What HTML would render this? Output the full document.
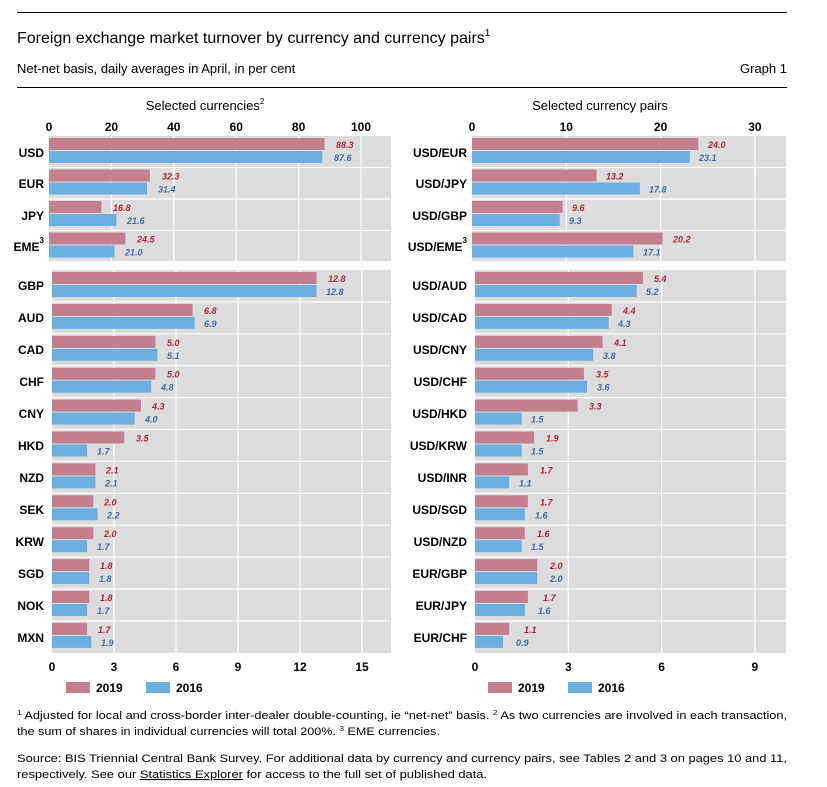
<!DOCTYPE html>
<html><head><meta charset="utf-8"><style>
body{margin:0;background:#fff}
svg{display:block;font-family:"Liberation Sans",sans-serif}
.c{font-size:12px;font-weight:bold;fill:#000;text-anchor:end}
.t{font-size:12px;font-weight:bold;fill:#000;text-anchor:middle}
.r{font-size:9px;font-weight:bold;font-style:italic;fill:#b5262c}
.b{font-size:9px;font-weight:bold;font-style:italic;fill:#3a6db5}
.p{fill:#c47f8f}.q{fill:#6aafe0}
.f{font-size:11px;fill:#000}
</style></head><body>
<svg width="827" height="787" viewBox="0 0 827 787">
<line x1="17" y1="12.5" x2="787" y2="12.5" stroke="#000" stroke-width="1"/>
<text x="17" y="43" font-size="16" fill="#000">Foreign exchange market turnover by currency and currency pairs<tspan font-size="10" dy="-7">1</tspan></text>
<text x="17" y="73" font-size="13" fill="#000">Net-net basis, daily averages in April, in per cent</text>
<text x="787" y="73" font-size="13" fill="#000" text-anchor="end">Graph 1</text>
<line x1="17" y1="87.5" x2="787" y2="87.5" stroke="#000" stroke-width="1"/>
<text x="205" y="110" font-size="13" text-anchor="middle">Selected currencies<tspan font-size="8" dy="-6">2</tspan></text>
<text x="600" y="110" font-size="13" text-anchor="middle">Selected currency pairs</text>

<rect x="49" y="136" width="342" height="125" fill="#dcdcdc"/>
<rect x="52" y="270" width="339" height="383" fill="#dcdcdc"/>
<rect x="472" y="136" width="314" height="125" fill="#dcdcdc"/>
<rect x="475" y="270" width="311" height="383" fill="#dcdcdc"/>
<g stroke="#fff" stroke-width="1.2">
<line x1="111.4" y1="136" x2="111.4" y2="261"/><line x1="173.8" y1="136" x2="173.8" y2="261"/><line x1="236.2" y1="136" x2="236.2" y2="261"/><line x1="298.6" y1="136" x2="298.6" y2="261"/><line x1="361" y1="136" x2="361" y2="261"/>
<line x1="114" y1="270" x2="114" y2="653"/><line x1="176" y1="270" x2="176" y2="653"/><line x1="238" y1="270" x2="238" y2="653"/><line x1="300" y1="270" x2="300" y2="653"/><line x1="362" y1="270" x2="362" y2="653"/>
<line x1="566.3" y1="136" x2="566.3" y2="261"/><line x1="660.6" y1="136" x2="660.6" y2="261"/><line x1="754.9" y1="136" x2="754.9" y2="261"/>
<line x1="568.3" y1="270" x2="568.3" y2="653"/><line x1="661.6" y1="270" x2="661.6" y2="653"/><line x1="754.9" y1="270" x2="754.9" y2="653"/>
<line x1="49" y1="167.5" x2="391" y2="167.5"/><line x1="49" y1="199" x2="391" y2="199"/><line x1="49" y1="230.5" x2="391" y2="230.5"/>
<line x1="472" y1="167.5" x2="786" y2="167.5"/><line x1="472" y1="199" x2="786" y2="199"/><line x1="472" y1="230.5" x2="786" y2="230.5"/>
<line x1="52" y1="301.9" x2="391" y2="301.9"/><line x1="52" y1="333.8" x2="391" y2="333.8"/><line x1="52" y1="365.7" x2="391" y2="365.7"/><line x1="52" y1="397.6" x2="391" y2="397.6"/><line x1="52" y1="429.5" x2="391" y2="429.5"/><line x1="52" y1="461.4" x2="391" y2="461.4"/><line x1="52" y1="493.3" x2="391" y2="493.3"/><line x1="52" y1="525.2" x2="391" y2="525.2"/><line x1="52" y1="557.1" x2="391" y2="557.1"/><line x1="52" y1="589" x2="391" y2="589"/><line x1="52" y1="620.9" x2="391" y2="620.9"/>
<line x1="475" y1="301.9" x2="786" y2="301.9"/><line x1="475" y1="333.8" x2="786" y2="333.8"/><line x1="475" y1="365.7" x2="786" y2="365.7"/><line x1="475" y1="397.6" x2="786" y2="397.6"/><line x1="475" y1="429.5" x2="786" y2="429.5"/><line x1="475" y1="461.4" x2="786" y2="461.4"/><line x1="475" y1="493.3" x2="786" y2="493.3"/><line x1="475" y1="525.2" x2="786" y2="525.2"/><line x1="475" y1="557.1" x2="786" y2="557.1"/><line x1="475" y1="589" x2="786" y2="589"/><line x1="475" y1="620.9" x2="786" y2="620.9"/>
</g>

<text class="t" x="49" y="131">0</text><text class="t" x="111.4" y="131">20</text><text class="t" x="173.8" y="131">40</text><text class="t" x="236.2" y="131">60</text><text class="t" x="298.6" y="131">80</text><text class="t" x="361" y="131">100</text>
<text class="t" x="472" y="131">0</text><text class="t" x="566.3" y="131">10</text><text class="t" x="660.6" y="131">20</text><text class="t" x="754.9" y="131">30</text>
<text class="t" x="52" y="671">0</text><text class="t" x="114" y="671">3</text><text class="t" x="176" y="671">6</text><text class="t" x="238" y="671">9</text><text class="t" x="300" y="671">12</text><text class="t" x="362" y="671">15</text>
<text class="t" x="475" y="671">0</text><text class="t" x="568.3" y="671">3</text><text class="t" x="661.6" y="671">6</text><text class="t" x="754.9" y="671">9</text>

<g>
<text class="c" x="44" y="157">USD</text>
<rect class="p" x="49" y="138" width="275.5" height="12"/><rect class="q" x="49" y="151" width="273.3" height="12"/>
<text class="r" x="336" y="148">88.3</text><text class="b" x="334" y="161">87.6</text>
<text class="c" x="44" y="188">EUR</text>
<rect class="p" x="49" y="169.5" width="100.8" height="12"/><rect class="q" x="49" y="182.5" width="98" height="12"/>
<text class="r" x="162" y="179.5">32.3</text><text class="b" x="158" y="192.5">31.4</text>
<text class="c" x="44" y="220">JPY</text>
<rect class="p" x="49" y="201" width="52.4" height="12"/><rect class="q" x="49" y="214" width="67.4" height="12"/>
<text class="r" x="113" y="211">16.8</text><text class="b" x="127" y="224">21.6</text>
<text class="c" x="44" y="251">EME<tspan font-size="8" dy="-8">3</tspan></text>
<rect class="p" x="49" y="232.5" width="76.4" height="12"/><rect class="q" x="49" y="245.5" width="65.5" height="12"/>
<text class="r" x="137" y="242.5">24.5</text><text class="b" x="125" y="255.5">21.0</text>
</g>

<g>
<text class="c" x="44" y="290">GBP</text><rect class="p" x="52" y="272" width="264.6" height="12"/><rect class="q" x="52" y="285" width="264.6" height="12"/><text class="r" x="328" y="282">12.8</text><text class="b" x="326" y="295">12.8</text>
<text class="c" x="44" y="322">AUD</text><rect class="p" x="52" y="303.9" width="140.6" height="12"/><rect class="q" x="52" y="316.9" width="142.6" height="12"/><text class="r" x="204" y="313.9">6.8</text><text class="b" x="204" y="326.9">6.9</text>
<text class="c" x="44" y="354">CAD</text><rect class="p" x="52" y="335.8" width="103.4" height="12"/><rect class="q" x="52" y="348.8" width="105.4" height="12"/><text class="r" x="167" y="345.8">5.0</text><text class="b" x="167" y="358.8">5.1</text>
<text class="c" x="44" y="386">CHF</text><rect class="p" x="52" y="367.7" width="103.4" height="12"/><rect class="q" x="52" y="380.7" width="99.2" height="12"/><text class="r" x="167" y="377.7">5.0</text><text class="b" x="161" y="390.7">4.8</text>
<text class="c" x="44" y="418">CNY</text><rect class="p" x="52" y="399.6" width="88.9" height="12"/><rect class="q" x="52" y="412.6" width="82.7" height="12"/><text class="r" x="152" y="409.6">4.3</text><text class="b" x="145" y="422.6">4.0</text>
<text class="c" x="44" y="450">HKD</text><rect class="p" x="52" y="431.5" width="72.3" height="12"/><rect class="q" x="52" y="444.5" width="35.1" height="12"/><text class="r" x="136" y="441.5">3.5</text><text class="b" x="97" y="454.5">1.7</text>
<text class="c" x="44" y="482">NZD</text><rect class="p" x="52" y="463.4" width="43.4" height="12"/><rect class="q" x="52" y="476.4" width="43.4" height="12"/><text class="r" x="106" y="473.4">2.1</text><text class="b" x="105" y="486.4">2.1</text>
<text class="c" x="44" y="514">SEK</text><rect class="p" x="52" y="495.3" width="41.3" height="12"/><rect class="q" x="52" y="508.3" width="45.5" height="12"/><text class="r" x="104" y="505.3">2.0</text><text class="b" x="107" y="518.3">2.2</text>
<text class="c" x="44" y="546">KRW</text><rect class="p" x="52" y="527.2" width="41.3" height="12"/><rect class="q" x="52" y="540.2" width="35.1" height="12"/><text class="r" x="104" y="537.2">2.0</text><text class="b" x="97" y="550.2">1.7</text>
<text class="c" x="44" y="578">SGD</text><rect class="p" x="52" y="559.1" width="37.2" height="12"/><rect class="q" x="52" y="572.1" width="37.2" height="12"/><text class="r" x="100" y="569.1">1.8</text><text class="b" x="99" y="582.1">1.8</text>
<text class="c" x="44" y="610">NOK</text><rect class="p" x="52" y="591" width="37.2" height="12"/><rect class="q" x="52" y="604" width="35.1" height="12"/><text class="r" x="100" y="601">1.8</text><text class="b" x="97" y="614">1.7</text>
<text class="c" x="44" y="642">MXN</text><rect class="p" x="52" y="622.9" width="35.1" height="12"/><rect class="q" x="52" y="635.9" width="39.3" height="12"/><text class="r" x="98" y="632.9">1.7</text><text class="b" x="101" y="645.9">1.9</text>
</g>

<g>
<text class="c" x="467" y="157">USD/EUR</text><rect class="p" x="472" y="138" width="226.3" height="12"/><rect class="q" x="472" y="151" width="217.8" height="12"/><text class="r" x="708" y="148">24.0</text><text class="b" x="699" y="161">23.1</text>
<text class="c" x="467" y="188">USD/JPY</text><rect class="p" x="472" y="169.5" width="124.5" height="12"/><rect class="q" x="472" y="182.5" width="167.9" height="12"/><text class="r" x="606" y="179.5">13.2</text><text class="b" x="649" y="192.5">17.8</text>
<text class="c" x="467" y="220">USD/GBP</text><rect class="p" x="472" y="201" width="90.5" height="12"/><rect class="q" x="472" y="214" width="87.7" height="12"/><text class="r" x="572" y="211">9.6</text><text class="b" x="569" y="224">9.3</text>
<text class="c" x="467" y="251">USD/EME<tspan font-size="8" dy="-8">3</tspan></text><rect class="p" x="472" y="232.5" width="190.5" height="12"/><rect class="q" x="472" y="245.5" width="161.3" height="12"/><text class="r" x="673" y="242.5">20.2</text><text class="b" x="643" y="255.5">17.1</text>
</g>

<g>
<text class="c" x="467" y="290">USD/AUD</text><rect class="p" x="475" y="272" width="167.9" height="12"/><rect class="q" x="475" y="285" width="161.7" height="12"/><text class="r" x="654" y="282">5.4</text><text class="b" x="646" y="295">5.2</text>
<text class="c" x="467" y="322">USD/CAD</text><rect class="p" x="475" y="303.9" width="136.8" height="12"/><rect class="q" x="475" y="316.9" width="133.7" height="12"/><text class="r" x="623" y="313.9">4.4</text><text class="b" x="618" y="326.9">4.3</text>
<text class="c" x="467" y="354">USD/CNY</text><rect class="p" x="475" y="335.8" width="127.5" height="12"/><rect class="q" x="475" y="348.8" width="118.2" height="12"/><text class="r" x="614" y="345.8">4.1</text><text class="b" x="603" y="358.8">3.8</text>
<text class="c" x="467" y="386">USD/CHF</text><rect class="p" x="475" y="367.7" width="108.9" height="12"/><rect class="q" x="475" y="380.7" width="112" height="12"/><text class="r" x="596" y="377.7">3.5</text><text class="b" x="597" y="390.7">3.6</text>
<text class="c" x="467" y="418">USD/HKD</text><rect class="p" x="475" y="399.6" width="102.6" height="12"/><rect class="q" x="475" y="412.6" width="46.7" height="12"/><text class="r" x="589" y="409.6">3.3</text><text class="b" x="531" y="422.6">1.5</text>
<text class="c" x="467" y="450">USD/KRW</text><rect class="p" x="475" y="431.5" width="59.1" height="12"/><rect class="q" x="475" y="444.5" width="46.7" height="12"/><text class="r" x="546" y="441.5">1.9</text><text class="b" x="531" y="454.5">1.5</text>
<text class="c" x="467" y="482">USD/INR</text><rect class="p" x="475" y="463.4" width="52.9" height="12"/><rect class="q" x="475" y="476.4" width="34.2" height="12"/><text class="r" x="540" y="473.4">1.7</text><text class="b" x="519" y="486.4">1.1</text>
<text class="c" x="467" y="514">USD/SGD</text><rect class="p" x="475" y="495.3" width="52.9" height="12"/><rect class="q" x="475" y="508.3" width="49.8" height="12"/><text class="r" x="540" y="505.3">1.7</text><text class="b" x="535" y="518.3">1.6</text>
<text class="c" x="467" y="546">USD/NZD</text><rect class="p" x="475" y="527.2" width="49.8" height="12"/><rect class="q" x="475" y="540.2" width="46.7" height="12"/><text class="r" x="537" y="537.2">1.6</text><text class="b" x="531" y="550.2">1.5</text>
<text class="c" x="467" y="578">EUR/GBP</text><rect class="p" x="475" y="559.1" width="62.2" height="12"/><rect class="q" x="475" y="572.1" width="62.2" height="12"/><text class="r" x="550" y="569.1">2.0</text><text class="b" x="550" y="582.1">2.0</text>
<text class="c" x="467" y="610">EUR/JPY</text><rect class="p" x="475" y="591" width="52.9" height="12"/><rect class="q" x="475" y="604" width="49.8" height="12"/><text class="r" x="543" y="601">1.7</text><text class="b" x="538" y="614">1.6</text>
<text class="c" x="467" y="642">EUR/CHF</text><rect class="p" x="475" y="622.9" width="34.2" height="12"/><rect class="q" x="475" y="635.9" width="28" height="12"/><text class="r" x="524" y="632.9">1.1</text><text class="b" x="516" y="645.9">0.9</text>
</g>

<rect class="p" x="66" y="682" width="24" height="11"/><text x="96" y="692" font-size="12" font-weight="bold">2019</text>
<rect class="q" x="146" y="682" width="24" height="11"/><text x="176" y="692" font-size="12" font-weight="bold">2016</text>
<rect class="p" x="488" y="682" width="24" height="11"/><text x="518" y="692" font-size="12" font-weight="bold">2019</text>
<rect class="q" x="568" y="682" width="24" height="11"/><text x="598" y="692" font-size="12" font-weight="bold">2016</text>

<text class="f" x="17" y="719" textLength="770" lengthAdjust="spacingAndGlyphs"><tspan font-size="7" dy="-4">1</tspan><tspan dy="4">  Adjusted for local and cross-border inter-dealer double-counting, ie “net-net” basis.     </tspan><tspan font-size="7" dy="-4">2</tspan><tspan dy="4">  As two currencies are involved in each transaction,</tspan></text>
<text class="f" x="17" y="735" textLength="423" lengthAdjust="spacingAndGlyphs">the sum of shares in individual currencies will total 200%.   <tspan font-size="7" dy="-4">3</tspan><tspan dy="4">  EME currencies.</tspan></text>
<text class="f" x="17" y="762" textLength="770" lengthAdjust="spacingAndGlyphs">Source: BIS Triennial Central Bank Survey. For additional data by currency and currency pairs, see Tables 2 and 3 on pages 10 and 11,</text>
<text class="f" x="17" y="778" textLength="470" lengthAdjust="spacingAndGlyphs">respectively. See our <tspan text-decoration="underline">Statistics Explorer</tspan> for access to the full set of published data.</text>
</svg>
</body></html>
